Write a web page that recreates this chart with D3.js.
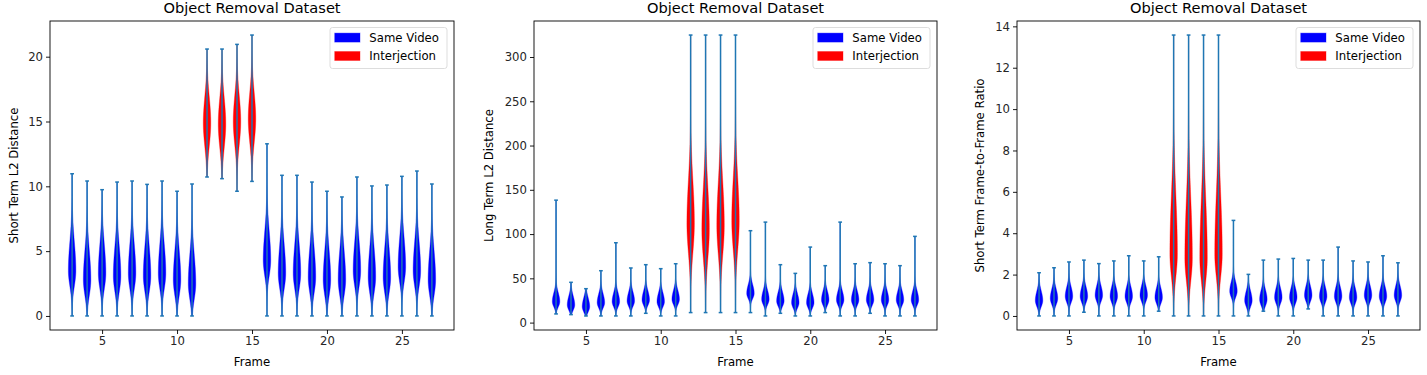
<!DOCTYPE html>
<html>
<head>
<meta charset="utf-8">
<script src="https://cdn.jsdelivr.net/npm/d3@7"></script>
<style>
  html, body { margin: 0; padding: 0; background: #fff; }
  svg { display: block; font-family: "DejaVu Sans", sans-serif; }
</style>
</head>
<body>
<svg id="chart" width="1427" height="375"></svg>
<script>
// ---------------- DATA ----------------
const frames = [3,4,5,6,7,8,9,10,11,12,13,14,15,16,17,18,19,20,21,22,23,24,25,26,27];
const interjectionFrames = [12,13,14,15];
const xTicks = [5,10,15,20,25];

// Panel 1: Short Term L2 Distance
const shortL2Min  = [0,0,0,0,0,0,0,0,0, 10.72,10.59,9.62,10.38, 0,0,0,0,0,0,0,0,0,0,0,0];
const shortL2Max  = [10.97,10.41,9.74,10.33,10.41,10.15,10.41,9.62,10.18, 20.59,20.59,20.95,21.67,
                     13.28,10.85,10.85,10.33,9.62,9.18,10.72,10.03,10.10,10.77,11.18,10.18];
const shortL2Mode = [3.5,2.8,3.3,3.1,3.3,3.1,3.3,2.8,2.5, 14.9,14.8,15.0,15.2,
                     4.3,3.3,3.3,3.0,2.8,2.8,3.5,3.0,3.0,3.8,3.5,2.8];
const shortL2Ticks = [0,5,10,15,20];

// Panel 2: Long Term L2 Distance
const longL2Min  = [9.8,9.0,7.5,7.5,7.5,7.5,10.5,7.5,7.5, 11.3,11.3,11.3,11.3,
                    11.3,7.5,10.5,7.5,7.5,11.3,7.5,7.5,10.5,7.5,7.5,7.5];
const longL2Max  = [138.3,45.5,38.3,58.6,90.2,61.7,65.4,60.9,66.5, 324.8,324.8,324.8,324.8,
                    103.8,113.5,65.4,55.6,85.3,64.3,113.5,66.5,67.7,66.5,64.3,97.4];
const longL2Mode = [23.7,20,18,22.5,23.7,24.4,25.6,23.7,26.3, 112,105,110,115,
                    33,26.3,24.4,22.5,22.5,25.6,25.6,25.6,25.6,25.6,25.6,25.6];
const longL2Ticks = [0,50,100,150,200,250,300];

// Panel 3: Short Term Frame-to-Frame Ratio
const ratioMin  = [0,0,0,0.18,0,0,0,0,0.23, 0,0,0,0, 0,0,0.23,0,0,0.34,0,0,0,0,0,0];
const ratioMax  = [2.09,2.33,2.61,2.70,2.53,2.66,2.91,2.66,2.86, 13.58,13.58,13.58,13.58,
                   4.62,2.01,2.70,2.75,2.78,2.70,2.70,3.33,2.66,2.61,2.91,2.57];
const ratioMode = [0.75,0.85,0.95,0.95,1.0,0.95,0.95,1.0,0.9, 3.0,2.8,2.8,3.0,
                   1.2,0.75,0.8,0.9,0.9,1.0,0.95,0.95,0.9,1.0,0.95,1.0];
const ratioTicks = [0,2,4,6,8,10,12,14];

// Spread of each body below / above its widest point: [same video, interjection]
const shortL2Spread = { below: [1.2, 1.8], above: [2.2, 2.0] };
const longL2Spread  = { below: [6, 33],    above: [10, 48] };
const ratioSpread   = { below: [0.3, 1.1], above: [0.45, 2.8] };

const legendLabels = ["Same Video", "Interjection"];
const titleText = "Object Removal Dataset";

// ---------------- RENDER ----------------
const svg = d3.select("#chart");
const colorSame = "#0000ff", colorInter = "#ff0000", extremaColor = "#1f77b4";
const violinWidth = 0.5;
const plotTop = 21, plotBottom = 330;
const fs = 11.7;

const panels = [
  { left: 50,   right: 454,  mins: shortL2Min, maxs: shortL2Max, modes: shortL2Mode, ticks: shortL2Ticks, spread: shortL2Spread, ylabel: "Short Term L2 Distance", ylabelX: 13.5 },
  { left: 534,  right: 937,  mins: longL2Min,  maxs: longL2Max,  modes: longL2Mode,  ticks: longL2Ticks,  spread: longL2Spread,  ylabel: "Long Term L2 Distance", ylabelX: 488.5 },
  { left: 1017, right: 1420, mins: ratioMin,   maxs: ratioMax,   modes: ratioMode,   ticks: ratioTicks,   spread: ratioSpread,   ylabel: "Short Term Frame-to-Frame Ratio", ylabelX: 980 }
];

panels.forEach(p => {
  const g = svg.append("g");
  const xMinData = d3.min(frames) - violinWidth / 2, xMaxData = d3.max(frames) + violinWidth / 2;
  const xr = xMaxData - xMinData;
  const x = d3.scaleLinear().domain([xMinData - 0.05 * xr, xMaxData + 0.05 * xr]).range([p.left, p.right]);
  const yMinData = d3.min(p.mins), yMaxData = d3.max(p.maxs);
  const yr = yMaxData - yMinData;
  const y = d3.scaleLinear().domain([yMinData - 0.05 * yr, yMaxData + 0.05 * yr]).range([plotBottom, plotTop]);

  // violins
  frames.forEach((f, i) => {
    const inter = interjectionFrames.includes(f);
    const k = inter ? 1 : 0;
    const lo = p.mins[i], hi = p.maxs[i], mode = p.modes[i];
    const sb = p.spread.below[k], sa = p.spread.above[k];
    const N = 160;
    const pts = d3.range(N + 1).map(j => {
      const v = lo + (hi - lo) * j / N;
      const s = v < mode ? sb : sa;
      const w = Math.exp(-0.5 * Math.pow((v - mode) / s, 2));
      return { v, hw: w * violinWidth / 2 };
    });
    const area = d3.area()
      .y(d => y(d.v))
      .x0(d => x(f - d.hw))
      .x1(d => x(f + d.hw))
      .curve(d3.curveLinear);
    const col = inter ? colorInter : colorSame;
    g.append("path").attr("d", area(pts))
      .attr("fill", col).attr("stroke", col).attr("stroke-opacity", 0.35).attr("stroke-width", 1);

    // extrema
    const capHalf = violinWidth / 4;
    g.append("line").attr("x1", x(f)).attr("x2", x(f)).attr("y1", y(lo)).attr("y2", y(hi))
      .attr("stroke", extremaColor).attr("stroke-width", 1.5);
    [lo, hi].forEach(v => {
      g.append("line").attr("x1", x(f - capHalf)).attr("x2", x(f + capHalf)).attr("y1", y(v)).attr("y2", y(v))
        .attr("stroke", extremaColor).attr("stroke-width", 1.5);
    });
  });

  // axes
  const xAxis = d3.axisBottom(x).tickValues(xTicks).tickSize(4).tickPadding(3);
  const gx = g.append("g").attr("transform", `translate(0,${plotBottom})`).call(xAxis);
  const yAxis = d3.axisLeft(y).tickValues(p.ticks).tickSize(4).tickPadding(3);
  const gy = g.append("g").attr("transform", `translate(${p.left},0)`).call(yAxis);
  [gx, gy].forEach(a => {
    a.select(".domain").remove();
    a.selectAll("text").attr("font-size", fs).attr("fill", "#262626").attr("font-family", "DejaVu Sans");
    a.selectAll("line").attr("stroke", "#000").attr("stroke-width", 0.9);
  });

  // frame
  g.append("rect").attr("x", p.left).attr("y", plotTop).attr("width", p.right - p.left).attr("height", plotBottom - plotTop)
    .attr("fill", "none").attr("stroke", "#000").attr("stroke-width", 0.9);

  // title and labels
  const cx = (p.left + p.right) / 2;
  g.append("text").attr("x", cx).attr("y", 13.3).attr("text-anchor", "middle")
    .attr("font-size", 14.6).attr("fill", "#000").text(titleText);
  g.append("text").attr("x", cx).attr("y", 366).attr("text-anchor", "middle")
    .attr("font-size", fs).attr("fill", "#000").text("Frame");
  g.append("text").attr("transform", `translate(${p.ylabelX},${(plotTop + plotBottom) / 2}) rotate(-90)`)
    .attr("text-anchor", "middle").attr("dominant-baseline", "central")
    .attr("font-size", fs).attr("fill", "#000").text(p.ylabel);

  // legend
  const lw = 117, lh = 41;
  const lx = p.right - 7 - lw, ly = plotTop + 6.5;
  const lg = g.append("g").attr("transform", `translate(${lx},${ly})`);
  lg.append("rect").attr("width", lw).attr("height", lh).attr("rx", 2.5)
    .attr("fill", "#fff").attr("fill-opacity", 0.8).attr("stroke", "#d9d9d9").attr("stroke-width", 0.9);
  [colorSame, colorInter].forEach((c, i) => {
    lg.append("rect").attr("x", 4.7).attr("y", 5.6 + i * 18.4).attr("width", 25.3).attr("height", 9)
      .attr("fill", c).attr("stroke", c).attr("stroke-opacity", 0.35).attr("stroke-width", 1);
    lg.append("text").attr("x", 39.3).attr("y", 10.1 + i * 18.4).attr("dominant-baseline", "central")
      .attr("font-size", fs).attr("fill", "#000").text(legendLabels[i]);
  });
});
</script>
</body>
</html>
